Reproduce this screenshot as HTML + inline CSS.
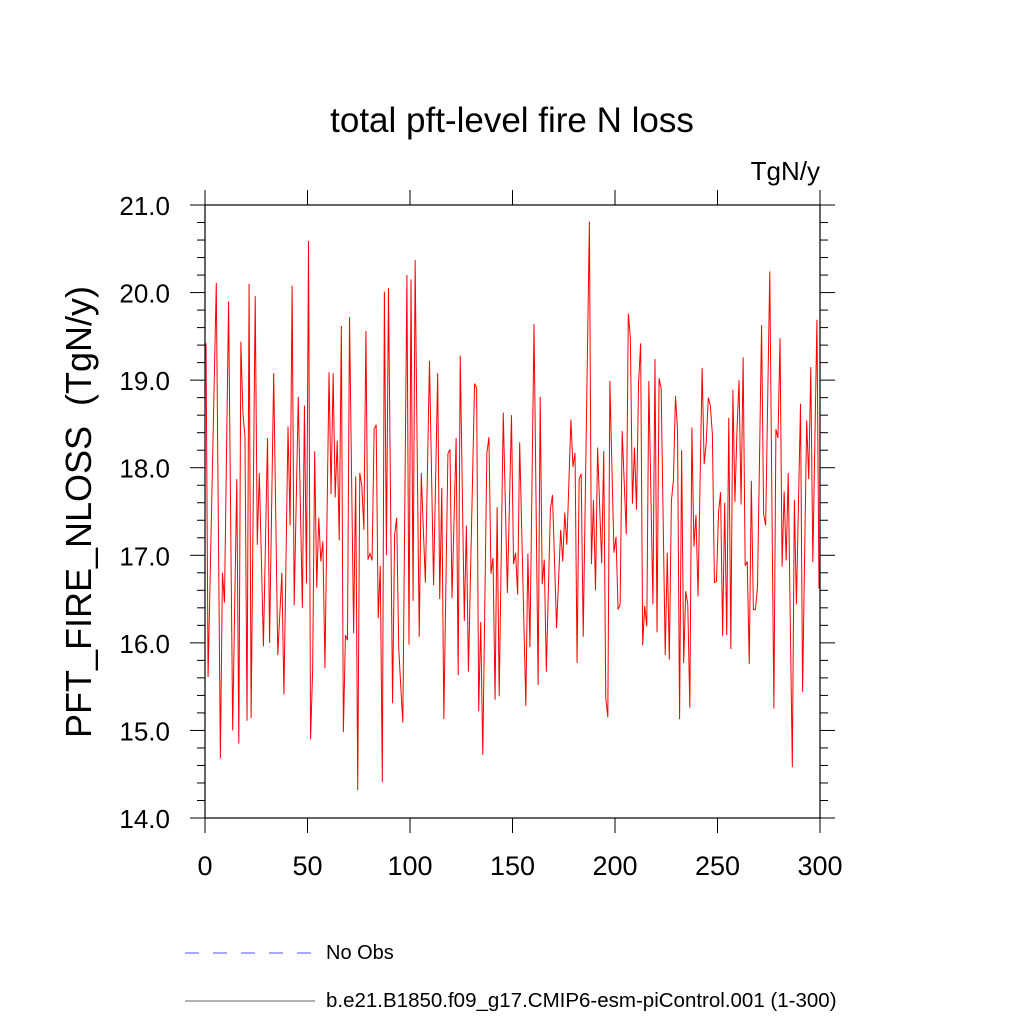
<!DOCTYPE html>
<html><head><meta charset="utf-8"><style>
body{margin:0;background:#fff;}
svg text{font-family:"Liberation Sans",sans-serif;fill:#000;}
</style></head><body>
<svg id="chart" width="1024" height="1024" viewBox="0 0 1024 1024">
<text x="512" y="132" font-size="35" text-anchor="middle">total pft-level fire N loss</text>
<text x="820" y="180" font-size="26" text-anchor="end">TgN/y</text>
<text transform="translate(91,512) rotate(-90)" font-size="36" text-anchor="middle" xml:space="preserve">PFT_FIRE_NLOSS  (TgN/y)</text>
<g id="ticks"></g>
<polyline id="series" fill="none" stroke="#ff0000" stroke-width="1"/>
<rect x="205" y="205" width="615" height="613" fill="none" stroke="#000" stroke-width="1.2"/>
<g>
<line x1="185" y1="953" x2="315" y2="953" stroke="#5050ff" stroke-width="1" stroke-dasharray="14,14"/>
<text x="326" y="959" font-size="20">No Obs</text>
<line x1="185" y1="1001" x2="315" y2="1001" stroke="#666" stroke-width="1"/>
<text x="326" y="1007" font-size="20.5">b.e21.B1850.f09_g17.CMIP6-esm-piControl.001 (1-300)</text>
</g>
</svg>
<script>
const values = [19.42,15.61,16.73,17.86,18.98,20.11,17.4,14.68,16.80,16.46,18.18,19.90,17.45,15.0,16.44,17.87,14.85,19.44,18.62,18.36,15.11,20.10,15.14,17.55,19.96,17.12,17.94,16.95,15.96,17.15,18.34,16.0,17.54,19.08,17.47,15.86,16.33,16.80,15.41,16.94,18.47,17.34,20.08,16.43,17.62,18.81,17.6,16.40,18.71,16.68,20.59,14.90,15.68,18.19,16.63,17.43,16.93,17.16,15.71,17.4,19.09,17.70,19.08,17.66,18.31,17.17,19.62,14.98,16.09,16.03,19.72,17.9,16.11,17.90,14.32,17.94,17.79,17.29,19.56,16.95,17.02,16.94,18.44,18.49,16.28,16.88,14.41,20.01,17.0,20.05,17.68,15.31,17.23,17.43,15.94,15.5,15.09,17.65,20.20,15.98,20.15,16.48,20.37,18.2,16.07,17.94,17.3,16.69,17.95,19.22,17.94,16.66,17.87,19.08,16.50,17.77,15.13,16.65,18.16,18.21,16.51,17.42,18.34,15.63,19.28,17.77,16.25,17.34,15.67,16.77,17.86,18.96,18.91,15.22,16.24,14.72,16.45,18.17,18.35,16.79,16.97,15.35,17.55,15.39,17.0,18.63,17.6,16.57,17.58,18.60,16.90,17.03,16.55,18.29,17.29,16.28,15.28,17.02,15.95,17.8,19.64,17.58,15.52,18.81,16.67,16.95,15.67,16.6,17.53,17.69,16.93,16.17,16.73,17.29,16.93,17.49,17.12,17.83,18.55,18.01,18.17,15.77,17.87,17.93,16.07,17.65,19.23,20.81,16.90,17.63,16.60,18.23,17.57,16.91,18.19,15.37,15.15,18.99,18.0,17.03,17.21,16.38,16.44,18.42,17.83,17.24,19.76,19.48,17.59,18.23,17.52,18.97,19.42,15.97,16.42,16.19,18.99,17.7,16.44,19.24,16.12,19.02,18.91,17.4,15.86,17.03,15.81,17.62,17.86,18.82,18.43,15.13,18.20,15.77,16.59,16.44,15.26,18.46,17.10,17.46,16.53,17.84,19.14,18.04,18.28,18.80,18.71,18.38,16.69,16.70,17.49,17.72,16.08,17.60,16.09,18.57,15.93,18.89,17.61,18.43,19.0,17.58,19.26,16.88,16.93,15.76,17.85,16.38,16.38,16.64,18.1,19.63,17.47,17.34,18.8,20.24,17.7,15.25,18.44,18.34,19.48,16.87,17.73,16.94,17.94,16.26,14.58,17.63,16.44,17.6,18.73,15.44,17.0,18.54,17.87,19.15,16.92,18.3,19.69,16.62];
const xTickValues = [0,50,100,150,200,250,300];
const yTickValues = [14,15,16,17,18,19,20,21];
const yTickLabels = ["14.0","15.0","16.0","17.0","18.0","19.0","20.0","21.0"];
const X0=205,X1=820,Y0=818,Y1=205,XMIN=0,XMAX=300,YMIN=14,YMAX=21;
function xs(v){return X0+(v-XMIN)/(XMAX-XMIN)*(X1-X0);}
function ys(v){return Y0-(v-YMIN)/(YMAX-YMIN)*(Y0-Y1);}
const NS="http://www.w3.org/2000/svg";
const g=document.getElementById('ticks');
function ln(x1,y1,x2,y2,name){const l=document.createElementNS(NS,'line');l.setAttribute('x1',x1);l.setAttribute('y1',y1);l.setAttribute('x2',x2);l.setAttribute('y2',y2);l.setAttribute('stroke','#000');l.setAttribute('stroke-width','1');


g.appendChild(l);}
function tx(x,y,s,anchor,size,name){const t=document.createElementNS(NS,'text');t.setAttribute('x',x);t.setAttribute('y',y);t.setAttribute('font-size',size);t.setAttribute('text-anchor',anchor);t.textContent=s;


g.appendChild(t);}
xTickValues.forEach(v=>{const x=xs(v);ln(x,Y0,x,Y0+15,'x-tick');ln(x,Y1,x,Y1-15,'x-tick-top');tx(x,875,String(v),'middle','27','x-tick-label');});
for(let i=0;i<=35;i++){const v=YMIN+i*0.2;const y=ys(v);const major=i%5===0;const L=major?15:8;ln(X0,y,X0-L,y,'y-tick');ln(X1,y,X1+L,y,'y-tick-right');}
yTickValues.forEach((v,i)=>tx(170,ys(v)+10,yTickLabels[i],'end','26','y-tick-label'));
const pts=values.map((v,i)=>xs(i+0.5).toFixed(2)+','+ys(v).toFixed(2)).join(' ');
document.getElementById('series').setAttribute('points',pts);
</script>
</body></html>
